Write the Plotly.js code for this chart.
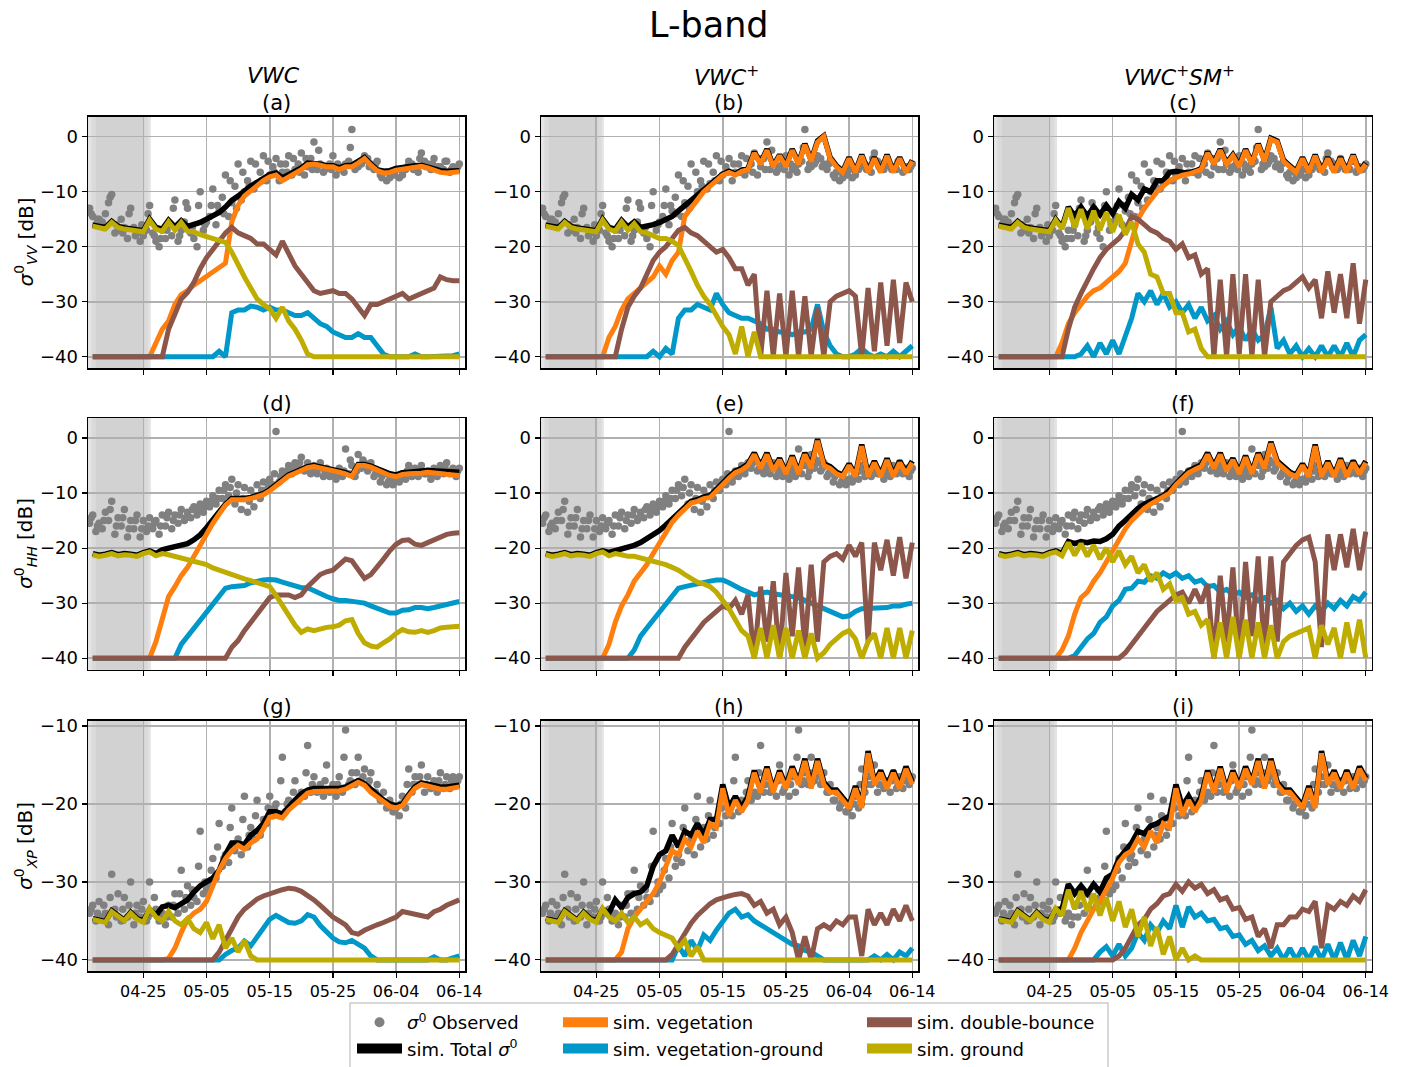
<!DOCTYPE html>
<html><head><meta charset="utf-8">
<script src="https://cdn.plot.ly/plotly-3.0.1.min.js"></script>
<style>html,body{margin:0;padding:0;background:#fff;}#chart{width:1406px;height:1067px;}</style>
</head><body><div id="chart"></div>
<script>
// x positions: days after 04-15
const days = [2,3,4,5,6,7,8,9,10,11,12,13,14,15,16,17,18,19,20,21,22,23,24,25,26,27,28,29,30,31,32,33,34,35,36,37,38,39,40,41,42,43,44,45,46,47,48,49,50,51,52,53,54,55,56,57,58,59,60];
const halfDays = [1.5,2.5,3.5,4.5,5.5,6.5,7.5,8.5,9.5,10.5,11.5,12.5,13.5,14.5,15.5,16.5,17.5,18.5,19.5,20.5,21.5,22.5,23.5,24.5,25.5,26.5,27.5,28.5,29.5,30.5,31.5,32.5,33.5,34.5,35.5,36.5,37.5,38.5,39.5,40.5,41.5,42.5,43.5,44.5,45.5,46.5,47.5,48.5,49.5,50.5,51.5,52.5,53.5,54.5,55.5,56.5,57.5,58.5,59.5];
const lateDays = [1.75,2.75,3.75,4.75,5.75,6.75,7.75,8.75,9.75,10.75,11.75,12.75,13.75,14.75,15.75,16.75,17.75,18.75,19.75,20.75,21.75,22.75,23.75,24.75,25.75,26.75,27.75,28.75,29.75,30.75,31.75,32.75,33.75,34.75,35.75,36.75,37.75,38.75,39.75,40.75,41.75,42.75,43.75,44.75,45.75,46.75,47.75,48.75,49.75,50.75,51.75,52.75,53.75,54.75,55.75,56.75,57.75,58.75,59.75];
const tickDays = [10,20,30,40,50,60];
const tickLabels = ['04-25','05-05','05-15','05-25','06-04','06-14'];
const frozenPeriod = [1.5, 10.6];

// observed sigma0 (same in every column of a row)
const obsVVint = [-14.5,-15,-14,-10.5,-17,-16.5,-13,-17.5,-18,-12.5,
-19,-17,-16,-11.5,-17,-13,-18.5,-10,-15.5,-9.5,
-13.5,-7,-12,-5,-10,-4.5,-8.5,-3.5,-7,-4,
-6.5,-3.5,-6,-3,-5.5,-1,-5,-5.5,-3.5,-6,
-5,1.3,-5.5,-3.5,-5,-4.5,-6.5,-7.5,-6,-7,
-4.5,-5.5,-3,-5,-4,-5.5,-4.5,-5.5,-5];
const obsVVhalf = [-13,-16,-15.5,-12,-17.5,-15,-18.5,-16.5,-19,-17,
-17.5,-20,-18.5,-18,-19,-15.5,-17.5,-20,-17,-14.5,
-16,-11,-14.5,-9,-11.5,-8,-9.5,-6.5,-8,-5.5,
-8,-5,-7,-5,-7,-4,-6,-6.5,-5,-7,
-5.5,-4.5,-6,-5,-4,-6,-7,-8,-6.5,-7.5,
-6,-5,-6.5,-4.5,-6,-5.5,-6,-6.5,-6];
const obsVVlate = [-14,-15,-16.5,-11,-16,-17.5,-14,-18,-16,-14,
-18,-18.5,-17,-13,-18,-12,-16.5,-12.5,-16,-12.5,
-12.5,-14,-8,-13,-6.5,-9,-5,-8,-4.5,-6.5,
-5,-6.5,-4,-6.5,-4,-6,-2.5,-6,-6,-5,
-6.5,-2,-5,-4.5,-5.5,-5,-7.5,-6.5,-7,-6,
-5.5,-6,-4,-5.5,-5,-6,-4.5,-6,-5.5];
const obsHHint = [-14,-15.5,-13.5,-11.5,-14.5,-13,-15,-14,-15,-14.5,
-15,-14,-13.5,-14,-13,-13.5,-12.5,-12,-11.5,-10.5,
-9.5,-8.5,-7.5,-8.5,-9,-9.5,-8.5,-8,-7.5,1.2,
-6,-5,-4.5,-3.5,-4.5,-5,-4.5,-5.5,-6,-5.5,
-2,-5,-3,-4.5,-4.5,-6,-6.5,-7,-7.5,-6.5,
-5,-5.5,-5,-6,-5.5,-5,-4.5,-5.5,-5.5];
const obsHHhalf = [-15.5,-17,-16.5,-15,-17.5,-16,-18,-16.5,-18,-17,
-16.5,-17.5,-16,-16.5,-15.5,-15,-14.5,-14,-13.5,-12.5,
-12,-11,-10.5,-12,-13,-13.5,-12.5,-11,-9.5,-8.5,
-8,-7,-6.5,-5.5,-6,-6.5,-6.5,-7,-7,-7.5,
-7,-6.5,-7,-5.5,-6,-7,-8,-8.5,-8.5,-8,
-7.5,-7,-7,-6.5,-7.5,-7,-6.5,-6.5,-7];
const obsHHlate = [-14.5,-16,-15,-13,-16,-14.5,-16.5,-15,-16.5,-16,
-15.5,-16,-14.5,-15,-14,-14.5,-13,-13,-12.5,-11.5,
-11,-9.5,-9,-10,-11,-11.5,-10.5,-9.5,-8.5,-6.5,
-7,-6,-5.5,-4.5,-5.5,-5.5,-5.5,-6,-6.5,-6.5,
-6,-4,-6,-4,-5.5,-6.5,-7,-8,-8,-7,
-6,-6,-6,-6.5,-6.5,-6,-5.5,-6,-6];
const obsXPint = [-33,-32.5,-34,-29,-31.5,-32,-30,-33,-32.5,-30,
-33.5,-34,-33,-31.5,-28.5,-30.5,-32,-23.5,-31,-27,
-22.5,-26.5,-20.5,-24.5,-19,-23,-19.5,-22,-19,-20,
-14,-19.5,-17,-18.5,-12.5,-16.5,-17.5,-15,-17.5,-16.5,
-10.5,-16,-14,-15.5,-16,-17.5,-18.5,-19.5,-20.5,-19,
-15.5,-16.5,-15,-16.5,-17,-16,-16.5,-16.5,-16.5];
const obsXPhalf = [-34,-35,-34.5,-35.5,-33.5,-35,-34.5,-35.5,-34.5,-35,
-34,-35,-35.5,-34.5,-34,-33.5,-33,-32.5,-31.5,-30.5,
-29.5,-28,-27.5,-26,-26.5,-25.5,-24.5,-24,-22.5,-21.5,
-21.5,-21,-20,-19.5,-19,-18.5,-18.5,-19,-18.5,-19,
-18.5,-17.5,-17.5,-17,-17.5,-18.5,-19.5,-20.5,-21,-21.5,
-20.5,-18.5,-17.5,-18.5,-18,-18.5,-18,-18,-17.5];
const obsXPlate = [-33.5,-34,-33,-32,-34.5,-33.5,-33,-34,-33.5,-34.5,
-32,-34.5,-34.5,-33,-31.5,-32,-31,-28,-30,-28.5,
-25.5,-27,-23,-25,-22,-24,-21.5,-23,-20.5,-20.5,
-17,-20,-18.5,-19,-16,-17.5,-18,-17,-18,-17.5,
-14,-17,-16,-16.5,-17,-18.5,-19.5,-20,-21,-20,
-17.5,-17.5,-16.5,-17.5,-17.5,-17,-17.5,-17,-17];

// ---- panel (a) VWC, VV
const totalA = [-16.1,-16.3,-16.5,-15.4,-16.3,-16.6,-16.8,-16.8,-17.1,-15.0,
-16.5,-16.8,-15.2,-16.4,-15.3,-16.3,-16.0,-15.6,-15.0,-14.5,
-13.8,-12.8,-11.6,-10.8,-9.8,-9.0,-8.3,-7.6,-6.9,-6.6,
-7.5,-6.9,-6.4,-5.7,-4.8,-4.8,-5.0,-5.3,-5.3,-5.7,
-5.3,-5.2,-4.6,-3.8,-5.0,-6.0,-6.3,-6.2,-5.8,-5.6,
-5.3,-5.3,-5.2,-5.5,-6.0,-6.2,-6.3,-6.3,-6.2];
const vegA = [-40,-40,-40,-40,-40,-40,-40,-40,-40,-40,
-37.5,-35.0,-33.5,-30.5,-28.7,-28.0,-27.0,-26.2,-25.5,-24.8,
-23.8,-23.0,-15.5,-12.5,-10.8,-9.8,-9.0,-8.0,-7.3,-7.0,
-8.0,-7.3,-6.8,-6.0,-5.1,-5.0,-5.2,-5.5,-5.5,-6.0,
-5.5,-5.5,-4.8,-4.0,-5.2,-6.2,-6.6,-6.5,-6.1,-5.9,
-5.6,-5.5,-5.4,-5.7,-6.2,-6.5,-6.6,-6.5,-6.4];
const vegGroundA = [-40,-40,-40,-40,-40,-40,-40,-40,-40,-40,
-40,-40,-40,-40,-40,-40,-40,-40,-40,-40,
-39.0,-40,-32.0,-31.5,-31.5,-30.8,-31.0,-31.5,-31.0,-31.5,
-31.5,-32.0,-32.5,-32.5,-32.0,-33.0,-34.0,-34.5,-35.5,-36.0,
-36.5,-36.5,-35.8,-36.5,-36.5,-38.0,-39.5,-40,-40,-40,
-40,-39.5,-40,-40,-40,-40,-40,-39.8,-39.5];
const doubleA = [-40,-40,-40,-40,-40,-40,-40,-40,-40,-40,
-40,-40,-35.0,-32.0,-29.5,-28.3,-26.5,-24.0,-22.0,-20.5,
-19.0,-17.5,-16.5,-17.5,-18.0,-18.5,-19.5,-19.5,-20.5,-21.5,
-19.0,-21.5,-23.5,-25.0,-26.5,-28.0,-28.5,-28.2,-28.0,-28.5,
-28.5,-29.5,-31.0,-32.5,-30.5,-30.5,-30.0,-29.5,-29.0,-28.5,
-29.5,-29.0,-28.5,-28.0,-27.5,-25.5,-26.0,-26.2,-26.2];
const groundA = [-16.3,-16.5,-16.8,-15.6,-16.5,-16.8,-17.0,-17.0,-17.3,-15.2,
-16.8,-17.2,-15.5,-17.0,-15.6,-17.2,-17.3,-17.8,-18.2,-18.5,
-18.8,-19.2,-21.0,-23.5,-25.5,-27.5,-29.5,-30.5,-31.3,-33.0,
-31.0,-33.5,-35.0,-37.0,-39.5,-40,-40,-40,-40,-40,
-40,-40,-40,-40,-40,-40,-40,-40,-40,-40,
-40,-40,-40,-40,-40,-40,-40,-40,-40];

// ---- panel (b) VWC+, VV
const totalB = [-16.1,-16.3,-16.5,-15.4,-16.3,-16.6,-16.8,-16.8,-17.1,-15.0,
-16.5,-16.8,-15.2,-16.4,-15.5,-16.5,-16.3,-16.0,-15.6,-15.0,
-14.5,-13.5,-12.5,-11.5,-10.5,-9.8,-8.8,-7.5,-6.8,-6.3,
-6.8,-6.1,-5.8,-2.8,-4.8,-2.3,-5.3,-3.3,-5.3,-2.3,
-4.8,-1.3,-4.3,-0.8,0.1,-3.8,-5.3,-6.3,-3.8,-6.3,
-3.3,-6.3,-3.8,-6.3,-3.3,-6.3,-3.8,-6.3,-4.3];
const vegB = [-40,-40,-40,-40,-40,-40,-40,-40,-40,-40,
-36.5,-34.5,-31.5,-29.5,-28.5,-27.5,-26.5,-25.5,-23.5,-25.0,
-22.5,-21.0,-14.5,-12.8,-11.5,-10.0,-9.0,-8.0,-7.0,-6.5,
-7.0,-6.3,-6.0,-3.0,-5.0,-2.5,-5.5,-3.5,-5.5,-2.5,
-5.0,-1.5,-4.5,-1.0,0.0,-4.0,-5.5,-6.5,-4.0,-6.5,
-3.5,-6.5,-4.0,-6.5,-3.5,-6.5,-4.0,-6.5,-4.5];
const vegGroundB = [-40,-40,-40,-40,-40,-40,-40,-40,-40,-40,
-40,-40,-40,-40,-40,-40,-40,-39.0,-40,-38.5,
-39.5,-33.0,-31.5,-31.5,-30.5,-31.0,-31.5,-28.5,-30.5,-32.0,
-32.5,-33.0,-33.0,-33.5,-34.0,-35.0,-35.0,-35.5,-35.5,-36.0,
-35.5,-35.5,-35.0,-30.5,-35.5,-38.0,-39.5,-40,-40,-39.5,
-38.5,-39.5,-40,-39.5,-40,-39.0,-40,-39.0,-38.0];
const doubleB = [-40,-40,-40,-40,-40,-40,-40,-40,-40,-40,
-40,-40,-35.0,-31.0,-29.0,-27.5,-25.0,-22.5,-21.0,-20.0,
-18.5,-17.0,-16.5,-17.5,-18.0,-19.0,-20.0,-21.0,-20.5,-22.0,
-24.0,-24.0,-27.0,-25.0,-40,-28.0,-40,-28.5,-40,-28.0,
-40,-29.0,-40,-31.0,-40,-30.0,-29.0,-28.5,-28.0,-29.0,
-40,-27.5,-39.0,-26.5,-38.0,-26.0,-37.5,-26.5,-30.0];
const groundB = [-16.3,-16.5,-16.8,-15.6,-16.5,-16.8,-17.0,-17.0,-17.3,-15.2,
-16.8,-17.2,-15.5,-17.0,-15.8,-17.3,-17.5,-18.0,-18.5,-18.5,
-19.0,-19.8,-22.0,-24.5,-27.0,-29.0,-30.5,-32.5,-34.5,-36.0,
-39.5,-34.5,-40,-35.5,-40,-40,-40,-40,-40,-40,
-40,-40,-40,-40,-40,-40,-40,-40,-40,-40,
-40,-40,-40,-40,-40,-40,-40,-40,-40];

// ---- panel (c) VWC+SM+, VV
const totalC = [-16.1,-16.3,-16.5,-15.4,-16.3,-16.6,-16.8,-16.8,-17.1,-15.0,
-16.5,-12.8,-14.5,-12.8,-14.5,-12.8,-14.2,-12.5,-14.0,-11.8,
-13.0,-10.5,-11.5,-9.5,-10.0,-8.0,-8.0,-6.5,-6.3,-6.5,
-6.6,-6.3,-5.8,-2.8,-4.8,-2.3,-4.8,-3.3,-5.3,-2.3,
-4.8,-1.3,-4.3,-0.3,-0.8,-4.3,-5.3,-6.3,-3.8,-6.3,
-3.3,-6.3,-3.8,-6.3,-3.8,-6.3,-3.3,-6.3,-4.8];
const vegC = [-40,-40,-40,-40,-40,-40,-40,-40,-40,-40,
-37.5,-34.0,-32.0,-30.5,-29.0,-28.0,-27.5,-26.5,-25.5,-24.5,
-23.0,-19.0,-15.0,-13.0,-11.5,-10.0,-9.0,-8.0,-7.5,-7.0,
-6.8,-6.5,-6.0,-3.0,-5.0,-2.5,-5.0,-3.5,-5.5,-2.5,
-5.0,-1.5,-4.5,-0.5,-1.0,-4.5,-5.5,-6.5,-4.0,-6.5,
-3.5,-6.5,-4.0,-6.5,-4.0,-6.5,-3.5,-6.5,-5.0];
const vegGroundC = [-40,-40,-40,-40,-40,-40,-40,-40,-40,-40,
-40,-40,-40,-39.5,-38.0,-40,-37.5,-39.5,-37.0,-39.5,
-36.5,-33.0,-28.5,-30.0,-28.0,-30.5,-28.5,-31.0,-30.0,-32.0,
-30.5,-33.0,-31.0,-33.5,-32.5,-35.0,-33.5,-36.0,-34.5,-37.0,
-35.0,-37.0,-36.0,-31.0,-38.5,-37.0,-39.5,-38.0,-40,-38.5,
-40,-38.0,-40,-38.0,-40,-37.5,-40,-37.0,-36.0];
const doubleC = [-40,-40,-40,-40,-40,-40,-40,-40,-40,-40,
-40,-35.0,-31.0,-28.5,-26.0,-24.0,-22.0,-20.5,-19.5,-18.5,
-17.0,-14.5,-15.0,-16.0,-17.0,-17.5,-18.5,-19.0,-20.5,-19.5,
-22.0,-21.5,-25.0,-24.0,-40,-26.0,-40,-25.0,-39.5,-25.0,
-40,-26.0,-40,-30.0,-29.0,-28.0,-27.5,-26.5,-25.5,-27.5,
-26.0,-33.0,-24.5,-32.0,-25.0,-33.0,-23.0,-34.0,-26.0];
const groundC = [-16.3,-16.5,-16.8,-15.6,-16.5,-16.8,-17.0,-17.0,-17.3,-15.2,
-16.8,-13.0,-16.5,-13.2,-16.8,-13.5,-17.0,-13.8,-17.3,-14.2,
-17.8,-15.5,-19.5,-21.0,-25.0,-25.5,-28.5,-28.5,-32.0,-32.0,
-35.5,-35.0,-38.5,-40,-40,-40,-40,-40,-40,-40,
-40,-40,-40,-40,-40,-40,-40,-40,-40,-40,
-40,-40,-40,-40,-40,-40,-40,-40,-40];

// ---- panel (d) VWC, HH
const totalD = [-21.0,-21.3,-21.1,-20.8,-21.2,-21.0,-21.1,-21.3,-20.8,-20.5,
-21.0,-20.3,-20.0,-19.8,-19.6,-19.2,-18.5,-17.6,-16.3,-14.9,
-13.4,-12.0,-11.0,-11.1,-11.0,-10.8,-10.5,-10.1,-9.4,-8.5,
-7.5,-6.7,-6.2,-5.6,-5.2,-5.0,-5.2,-5.4,-5.6,-6.0,
-6.3,-6.8,-4.8,-4.8,-5.1,-5.6,-6.1,-6.5,-6.7,-6.3,
-6.2,-6.2,-6.0,-5.9,-6.0,-6.1,-6.1,-6.2,-6.2];
const vegD = [-40,-40,-40,-40,-40,-40,-40,-40,-40,-40,
-37.0,-32.5,-28.8,-27.0,-25.0,-23.5,-21.5,-19.3,-17.3,-15.5,
-13.8,-12.2,-11.2,-11.3,-11.2,-11.0,-10.7,-10.3,-9.6,-8.7,
-7.7,-6.9,-6.4,-5.8,-5.4,-5.2,-5.4,-5.6,-5.8,-6.2,
-6.5,-7.0,-5.0,-5.0,-5.3,-5.8,-6.3,-6.8,-7.0,-6.6,
-6.5,-6.5,-6.4,-6.2,-6.4,-6.5,-6.6,-6.7,-6.8];
const vegGroundD = [-40,-40,-40,-40,-40,-40,-40,-40,-40,-40,
-40,-40,-40,-40,-37.5,-36.0,-34.5,-33.0,-31.5,-30.0,
-28.5,-27.3,-27.0,-27.0,-26.8,-26.3,-26.0,-25.8,-25.7,-25.8,
-26.2,-26.5,-26.8,-27.2,-27.2,-27.8,-28.2,-28.8,-29.2,-29.5,
-29.5,-29.6,-29.8,-30.0,-30.5,-31.0,-31.3,-31.8,-31.8,-31.3,
-31.2,-30.8,-30.8,-31.0,-30.8,-30.5,-30.3,-30.0,-29.7];
const doubleD = [-40,-40,-40,-40,-40,-40,-40,-40,-40,-40,
-40,-40,-40,-40,-40,-40,-40,-40,-40,-40,
-40,-40,-38.0,-36.8,-35.0,-33.5,-32.0,-30.3,-29.0,-28.5,
-28.5,-28.5,-29.0,-28.5,-27.0,-25.8,-24.8,-24.3,-24.0,-23.0,
-22.0,-22.3,-24.0,-25.5,-24.8,-23.5,-22.0,-20.5,-19.3,-18.6,
-18.5,-19.3,-19.5,-19.0,-18.5,-17.8,-17.5,-17.3,-17.2];
const groundD = [-21.2,-21.5,-21.3,-21.0,-21.4,-21.2,-21.3,-21.5,-21.0,-20.7,
-21.4,-21.0,-21.2,-21.5,-21.8,-22.2,-22.4,-22.8,-23.0,-23.6,
-24.0,-24.4,-25.0,-25.3,-25.6,-25.9,-26.2,-26.5,-27.0,-28.6,
-30.5,-32.3,-34.0,-35.3,-34.7,-35.0,-34.6,-34.4,-34.3,-34.0,
-33.2,-33.0,-35.5,-37.2,-37.8,-38.0,-37.2,-36.5,-35.5,-34.8,
-35.2,-35.3,-35.0,-35.3,-35.0,-34.5,-34.4,-34.3,-34.2];

// ---- panel (e) VWC+, HH
const totalE = [-21.0,-21.3,-21.1,-20.8,-21.2,-21.0,-21.1,-21.3,-20.8,-20.5,
-20.8,-20.5,-20.3,-20.0,-19.5,-19.0,-18.3,-17.5,-16.8,-15.8,
-14.8,-13.7,-12.5,-11.5,-11.2,-10.7,-10.5,-9.5,-8.2,-7.0,
-6.0,-5.5,-4.7,-2.7,-5.2,-2.7,-5.7,-3.7,-6.2,-3.2,
-6.2,-2.7,-5.2,-0.2,-4.7,-5.2,-6.2,-6.7,-4.7,-6.7,
-1.2,-6.7,-4.2,-6.7,-3.7,-6.7,-4.2,-6.2,-4.2];
const vegE = [-40,-40,-40,-40,-40,-40,-40,-40,-40,-40,
-37.5,-33.5,-30.5,-28.5,-26.0,-24.5,-23.0,-21.0,-19.0,-17.0,
-15.3,-14.0,-12.8,-11.8,-11.5,-11.0,-10.8,-9.8,-8.5,-7.3,
-6.3,-5.8,-5.0,-3.0,-5.5,-3.0,-6.0,-4.0,-6.5,-3.5,
-6.5,-3.0,-5.5,-0.5,-5.0,-5.5,-6.5,-7.0,-5.0,-7.0,
-1.5,-7.0,-4.5,-7.0,-4.0,-7.0,-4.5,-6.5,-4.5];
const vegGroundE = [-40,-40,-40,-40,-40,-40,-40,-40,-40,-40,
-40,-40,-40,-40,-38.5,-36.0,-34.5,-33.0,-31.5,-30.0,
-28.5,-27.3,-27.0,-26.7,-26.5,-26.2,-26.0,-25.8,-25.8,-26.3,
-27.0,-27.5,-28.0,-28.5,-28.2,-28.0,-28.3,-28.5,-28.5,-28.8,
-29.0,-29.5,-30.0,-30.5,-31.0,-31.5,-32.0,-32.5,-32.3,-31.5,
-31.0,-31.0,-31.0,-31.0,-30.8,-30.5,-30.5,-30.2,-30.0];
const doubleE = [-40,-40,-40,-40,-40,-40,-40,-40,-40,-40,
-40,-40,-40,-40,-40,-40,-40,-40,-40,-40,
-40,-40,-38.0,-36.5,-35.0,-33.5,-32.5,-31.5,-30.5,-31.0,
-29.5,-32.0,-28.5,-40,-27.0,-37.0,-26.0,-40,-24.5,-36.0,
-23.5,-38.0,-23.0,-37.0,-22.5,-21.5,-21.0,-22.0,-19.5,-21.5,
-19.0,-37.0,-19.0,-24.0,-18.5,-25.0,-18.0,-25.5,-19.0];
const groundE = [-21.2,-21.5,-21.3,-21.0,-21.4,-21.2,-21.3,-21.5,-21.0,-20.7,
-21.4,-21.0,-21.2,-21.5,-21.5,-21.8,-22.0,-22.3,-22.5,-23.0,
-23.5,-24.0,-24.8,-25.5,-26.2,-26.5,-27.0,-28.0,-29.5,-31.0,
-33.0,-35.0,-36.0,-40,-34.5,-40,-34.0,-40,-34.5,-40,
-35.0,-40,-35.5,-40,-39.0,-37.5,-36.5,-35.5,-35.0,-36.5,
-40,-37.0,-35.5,-40,-34.5,-40,-34.5,-40,-35.0];

// ---- panel (f) VWC+SM+, HH
const totalF = [-21.0,-21.3,-21.1,-20.8,-21.2,-21.0,-21.1,-21.3,-20.8,-20.5,
-21.0,-18.8,-19.2,-18.8,-19.0,-18.7,-18.8,-18.3,-17.5,-16.0,
-15.0,-13.8,-12.8,-12.0,-11.5,-11.0,-10.5,-9.5,-8.3,-7.0,
-6.0,-5.4,-4.9,-2.7,-5.2,-2.7,-5.7,-3.7,-6.2,-3.2,
-6.2,-2.7,-5.2,-0.7,-4.2,-5.2,-6.2,-6.7,-4.7,-6.7,
-1.2,-6.7,-4.2,-6.7,-3.7,-6.7,-4.2,-6.2,-4.2];
const vegF = [-40,-40,-40,-40,-40,-40,-40,-40,-40,-40,
-38.5,-36.0,-32.0,-29.0,-28.0,-26.0,-24.5,-22.5,-20.5,-18.5,
-16.5,-15.0,-13.8,-12.8,-12.0,-11.3,-10.8,-10.0,-8.5,-7.3,
-6.3,-5.7,-5.2,-3.0,-5.5,-3.0,-6.0,-4.0,-6.5,-3.5,
-6.5,-3.0,-5.5,-1.0,-4.5,-5.5,-6.5,-7.0,-5.0,-7.0,
-1.5,-7.0,-4.5,-7.0,-4.0,-7.0,-4.5,-6.5,-4.5];
const vegGroundF = [-40,-40,-40,-40,-40,-40,-40,-40,-40,-40,
-40,-40,-39.5,-38.0,-36.5,-35.5,-33.5,-32.5,-30.5,-29.5,
-27.5,-27.3,-26.0,-26.2,-25.0,-25.5,-24.5,-25.2,-24.5,-25.5,
-25.0,-26.2,-25.8,-27.0,-26.8,-28.0,-27.5,-28.5,-28.0,-29.0,
-28.5,-29.5,-29.0,-30.0,-29.5,-31.0,-30.0,-31.5,-30.5,-32.0,
-30.5,-31.5,-30.0,-31.0,-29.5,-30.5,-28.8,-29.5,-28.0];
const doubleF = [-40,-40,-40,-40,-40,-40,-40,-40,-40,-40,
-40,-40,-40,-40,-40,-40,-40,-40,-40,-40,
-39.0,-37.5,-36.0,-34.5,-33.0,-31.5,-30.5,-29.5,-28.5,-28.0,
-30.0,-27.5,-30.0,-26.5,-40,-25.0,-37.0,-23.5,-40,-22.5,
-36.0,-21.5,-39.0,-21.5,-37.0,-22.5,-21.0,-19.5,-18.5,-18.0,
-22.5,-38.0,-17.5,-24.0,-17.5,-23.5,-16.5,-24.0,-17.0];
const groundF = [-21.2,-21.5,-21.3,-21.0,-21.4,-21.2,-21.3,-21.5,-21.0,-20.7,
-21.4,-19.0,-21.3,-19.2,-21.5,-19.5,-22.0,-20.0,-22.5,-20.5,
-23.0,-21.5,-24.5,-23.0,-26.0,-24.5,-27.5,-26.5,-29.5,-29.0,
-32.0,-31.5,-34.0,-33.0,-40,-33.5,-40,-32.5,-40,-33.0,
-40,-33.5,-40,-34.0,-40,-37.0,-36.0,-35.5,-35.0,-34.5,
-40,-34.0,-37.5,-34.5,-40,-33.5,-39.0,-33.0,-40];

// ---- panel (g) VWC, XP
const totalG = [-34.7,-34.9,-35.1,-33.7,-34.4,-34.9,-33.9,-34.7,-35.0,-33.5,
-34.3,-33.2,-33.0,-33.3,-32.8,-32.3,-31.3,-30.5,-30.0,-29.5,
-28.5,-26.5,-25.0,-25.0,-25.2,-24.0,-23.4,-22.5,-21.0,-21.0,
-21.3,-20.3,-19.5,-18.7,-18.2,-18.0,-18.0,-18.0,-18.0,-18.0,
-17.8,-17.4,-17.0,-17.4,-18.2,-18.8,-19.5,-20.0,-20.2,-20.0,
-18.8,-17.8,-17.3,-17.5,-17.6,-17.8,-17.8,-17.7,-17.6];
const vegG = [-40,-40,-40,-40,-40,-40,-40,-40,-40,-40,
-40,-40,-39.8,-38.5,-36.5,-34.8,-34.0,-33.5,-32.5,-30.5,
-28.5,-27.0,-26.0,-25.3,-25.8,-25.0,-24.5,-23.2,-21.7,-21.5,
-21.8,-20.8,-20.0,-19.2,-18.6,-18.4,-18.4,-18.4,-18.4,-18.3,
-18.1,-17.6,-17.2,-17.6,-18.5,-19.1,-19.8,-20.3,-20.5,-20.2,
-19.0,-18.0,-17.5,-17.7,-17.9,-18.1,-18.1,-18.0,-17.8];
const vegGroundG = [-40,-40,-40,-40,-40,-40,-40,-40,-40,-40,
-40,-40,-40,-40,-40,-40,-40,-40,-40,-40,
-40,-39.3,-38.8,-38.5,-37.6,-38.2,-37.0,-35.8,-34.8,-34.3,
-34.8,-35.2,-35.3,-35.0,-34.2,-34.5,-35.6,-36.5,-37.2,-37.7,
-37.8,-37.5,-38.0,-38.5,-39.5,-40,-40,-40,-40,-40,
-40,-40,-40,-40,-39.6,-40,-40,-39.8,-39.5];
const doubleG = [-40,-40,-40,-40,-40,-40,-40,-40,-40,-40,
-40,-40,-40,-40,-40,-40,-40,-40,-40,-40,
-39.0,-37.5,-35.8,-34.5,-33.5,-32.8,-32.2,-31.8,-31.5,-31.2,
-31.0,-30.8,-30.9,-31.2,-31.7,-32.3,-33.0,-33.8,-34.5,-35.0,
-35.5,-36.5,-36.7,-36.2,-35.8,-35.5,-35.2,-34.9,-34.5,-33.8,
-34.0,-34.2,-34.4,-34.5,-33.8,-33.5,-33.0,-32.6,-32.3];
const groundG = [-34.8,-35.0,-35.2,-33.8,-34.5,-35.0,-34.0,-34.8,-35.2,-33.4,
-34.5,-35.0,-33.8,-35.0,-35.5,-34.7,-36.0,-36.5,-35.2,-37.3,
-35.5,-38.5,-37.2,-39.0,-37.5,-39.5,-40,-40,-40,-40,
-40,-40,-40,-40,-40,-40,-40,-40,-40,-40,
-40,-40,-40,-40,-40,-40,-40,-40,-40,-40,
-40,-40,-40,-40,-40,-40,-40,-40,-40];

// ---- panel (h) VWC+, XP
const totalH = [-34.7,-34.9,-35.1,-33.7,-34.4,-34.9,-33.9,-34.7,-35.0,-33.5,
-34.0,-32.3,-33.3,-32.0,-31.5,-31.3,-30.5,-28.0,-26.5,-26.0,
-24.0,-25.5,-23.5,-24.0,-22.5,-24.0,-22.0,-22.0,-17.5,-20.5,
-19.0,-20.5,-19.0,-15.7,-18.2,-15.2,-18.2,-15.7,-17.7,-15.2,
-17.2,-14.2,-17.7,-14.2,-17.2,-18.2,-18.2,-19.2,-20.2,-17.7,
-20.2,-13.2,-17.2,-15.7,-17.7,-15.7,-17.7,-15.2,-17.2];
const vegH = [-40,-40,-40,-40,-40,-40,-40,-40,-40,-40,
-40,-40,-39.0,-36.0,-34.5,-33.5,-32.5,-31.5,-30.0,-28.0,
-26.0,-26.5,-24.5,-25.5,-23.5,-25.0,-22.5,-23.0,-18.0,-21.5,
-19.5,-21.0,-19.5,-16.0,-18.5,-15.5,-18.5,-16.0,-18.0,-15.5,
-17.5,-14.5,-18.0,-14.5,-17.5,-18.5,-18.5,-19.5,-20.5,-18.0,
-20.5,-13.5,-17.5,-16.0,-18.0,-16.0,-18.0,-15.5,-17.5];
const vegGroundH = [-40,-40,-40,-40,-40,-40,-40,-40,-40,-40,
-40,-40,-40,-40,-40,-40,-40,-40,-40,-40,
-40,-38.2,-39.5,-37.5,-38.8,-36.8,-37.5,-36.2,-35.0,-34.0,
-33.5,-34.5,-34.2,-35.0,-35.5,-36.0,-36.5,-37.0,-37.5,-38.0,
-38.2,-38.8,-39.0,-39.5,-40,-40,-40,-40,-40,-40,
-40,-40,-39.5,-40,-39.3,-40,-39.0,-39.5,-38.5];
const doubleH = [-40,-40,-40,-40,-40,-40,-40,-40,-40,-40,
-40,-40,-40,-40,-40,-40,-40,-40,-40,-40,
-39.3,-38.0,-36.5,-35.3,-34.3,-33.5,-32.8,-32.3,-32.0,-31.8,
-31.6,-31.5,-31.8,-33.0,-32.5,-34.0,-33.5,-35.5,-34.5,-36.5,
-40,-37.0,-40,-36.0,-35.5,-36.0,-35.0,-35.5,-34.5,-34.5,
-39.5,-33.5,-35.5,-34.0,-35.5,-33.5,-35.0,-33.0,-35.0];
const groundH = [-34.8,-35.0,-35.2,-33.8,-34.5,-35.0,-34.0,-34.8,-35.2,-33.4,
-34.5,-35.0,-34.0,-35.2,-34.5,-35.5,-35.0,-36.0,-36.5,-36.8,
-37.2,-38.5,-37.5,-39.5,-38.3,-40,-40,-40,-40,-40,
-40,-40,-40,-40,-40,-40,-40,-40,-40,-40,
-40,-40,-40,-40,-40,-40,-40,-40,-40,-40,
-40,-40,-40,-40,-40,-40,-40,-40,-40];

// ---- panel (i) VWC+SM+, XP
const totalI = [-34.7,-34.9,-35.1,-33.7,-34.4,-34.9,-33.9,-34.7,-35.0,-33.5,
-33.5,-30.3,-31.5,-30.5,-31.5,-30.3,-31.3,-29.5,-29.0,-27.0,
-26.0,-25.0,-23.5,-23.8,-22.8,-22.5,-22.0,-21.5,-17.5,-20.3,
-19.0,-20.5,-19.0,-15.7,-18.2,-15.2,-18.2,-15.7,-17.7,-15.2,
-17.2,-14.2,-17.7,-14.2,-17.2,-18.2,-18.2,-19.2,-20.2,-17.7,
-20.2,-13.2,-17.2,-15.7,-17.7,-15.7,-17.7,-15.2,-16.7];
const vegI = [-40,-40,-40,-40,-40,-40,-40,-40,-40,-40,
-40,-40,-38.5,-36.5,-35.0,-33.5,-32.5,-31.0,-29.5,-27.5,
-26.5,-26.0,-24.5,-25.5,-23.5,-25.0,-22.5,-23.0,-18.0,-21.5,
-19.5,-21.0,-19.5,-16.0,-18.5,-15.5,-18.5,-16.0,-18.0,-15.5,
-17.5,-14.5,-18.0,-14.5,-17.5,-18.5,-18.5,-19.5,-20.5,-18.0,
-20.5,-13.5,-17.5,-16.0,-18.0,-16.0,-18.0,-15.5,-17.0];
const vegGroundI = [-40,-40,-40,-40,-40,-40,-40,-40,-40,-40,
-40,-40,-40,-40,-40,-40,-39.0,-38.3,-39.5,-38.0,
-39.5,-38.5,-36.5,-37.5,-35.5,-36.5,-35.0,-36.0,-33.0,-35.8,
-33.2,-34.5,-34.0,-35.0,-34.8,-36.0,-35.8,-37.0,-36.8,-38.0,
-37.5,-38.8,-38.2,-39.5,-38.5,-40,-38.5,-40,-38.5,-40,
-38.3,-40,-38.0,-40,-37.8,-40,-37.5,-39.5,-37.0];
const doubleI = [-40,-40,-40,-40,-40,-40,-40,-40,-40,-40,
-40,-40,-40,-40,-40,-40,-40,-40,-40,-39.5,
-38.5,-37.0,-35.5,-34.8,-33.5,-32.8,-31.8,-31.5,-30.3,-31.2,
-30.0,-30.8,-30.3,-31.5,-31.0,-32.3,-32.0,-33.5,-33.3,-34.8,
-34.5,-37.0,-36.0,-38.5,-35.5,-35.5,-34.5,-34.5,-33.5,-33.8,
-32.5,-38.5,-33.0,-33.5,-32.5,-33.0,-31.8,-32.5,-31.0];
const groundI = [-34.8,-35.0,-35.2,-33.8,-34.5,-35.0,-34.0,-34.8,-35.2,-33.4,
-34.3,-31.0,-33.5,-31.2,-33.8,-31.5,-34.3,-32.0,-35.0,-32.5,
-35.8,-33.5,-37.0,-34.5,-38.2,-35.8,-39.3,-37.0,-40,-38.5,
-40,-39.5,-40,-40,-40,-40,-40,-40,-40,-40,
-40,-40,-40,-40,-40,-40,-40,-40,-40,-40,
-40,-40,-40,-40,-40,-40,-40,-40,-40];

const panelLetters = ['(a)','(b)','(c)','(d)','(e)','(f)','(g)','(h)','(i)'];
const columnTitles = ['<i>VWC</i>','<i>VWC</i><sup>+</sup>','<i>VWC</i><sup>+</sup><i>SM</i><sup>+</sup>'];
const rowTitles = ['<i>σ</i><sup>0</sup><sub><i>VV</i></sub> [dB]','<i>σ</i><sup>0</sup><sub><i>HH</i></sub> [dB]','<i>σ</i><sup>0</sup><sub><i>XP</i></sub> [dB]'];
const yTicksTop = [0,-10,-20,-30,-40];
const yTickTextTop = ['0','\u221210','\u221220','\u221230','\u221240'];
const yTicksXP = [-10,-20,-30,-40];
const yTickTextXP = ['\u221210','\u221220','\u221230','\u221240'];

const obsRows = [[obsVVhalf, obsVVlate, obsVVint],[obsHHhalf, obsHHlate, obsHHint],[obsXPhalf, obsXPlate, obsXPint]];
const panelSeries = [
  [totalA,vegA,vegGroundA,doubleA,groundA],
  [totalB,vegB,vegGroundB,doubleB,groundB],
  [totalC,vegC,vegGroundC,doubleC,groundC],
  [totalD,vegD,vegGroundD,doubleD,groundD],
  [totalE,vegE,vegGroundE,doubleE,groundE],
  [totalF,vegF,vegGroundF,doubleF,groundF],
  [totalG,vegG,vegGroundG,doubleG,groundG],
  [totalH,vegH,vegGroundH,doubleH,groundH],
  [totalI,vegI,vegGroundI,doubleI,groundI]
];
const seriesNames = ['sim. Total <i>σ</i><sup>0</sup>','sim. vegetation','sim. vegetation-ground','sim. double-bounce','sim. ground'];
const seriesColors = ['#000000','#ff7f0e','#0097c9','#8c564b','#bfac00'];
const seriesLegend = ['legend','legend2','legend2','legend3','legend3'];
const obsName = '<i>σ</i><sup>0</sup> Observed';

const W = 1406, H = 1067;
const colPx = [[88,465],[541,918],[994,1371.5]];
const rowPx = [[117,369],[419,671],[722,973]];
const FONT = 'DejaVu Sans';

const traces = [];
const layout = {
  width: W, height: H, margin:{l:0,r:0,t:0,b:0},
  paper_bgcolor:'#ffffff', plot_bgcolor:'#ffffff',
  font:{family:FONT, color:'#000000', size:17},
  hovermode:false, showlegend:true,
  shapes:[], annotations:[]
};

for (let k = 0; k < 9; k++) {
  const r = Math.floor(k/3), c = k % 3;
  const xs = 'x' + (k===0?'':k+1), ys = 'y' + (k===0?'':k+1);
  const xk = 'xaxis' + (k===0?'':k+1), yk = 'yaxis' + (k===0?'':k+1);
  const obs = obsRows[r];
  traces.push({
    type:'scatter', mode:'markers', x: halfDays.concat(lateDays, days), y: obs[0].concat(obs[1], obs[2]),
    xaxis: xs, yaxis: ys, marker:{color:'#808080', size:7.5},
    name: obsName, showlegend:false
  });
  panelSeries[k].forEach((ser, s) => {
    traces.push({
      type:'scatter', mode:'lines', x: days, y: ser, xaxis: xs, yaxis: ys,
      line:{color: seriesColors[s], width: s===0 ? 5.5 : 5},
      name: seriesNames[s], showlegend:false
    });
  });
  layout[xk] = {
    domain:[colPx[c][0]/W, colPx[c][1]/W], anchor: ys,
    range:[1.25, 60.9], tickmode:'array', tickvals: tickDays, ticktext: tickLabels,
    showticklabels: r===2, ticks:'outside', ticklen:5, tickwidth:1.2, tickcolor:'#000',
    tickfont:{size:16, family:FONT},
    showgrid:true, gridcolor:'#b0b0b0', gridwidth:1.6, zeroline:false,
    showline:true, linecolor:'#000', linewidth:1.5, mirror:true
  };
  layout[yk] = {
    domain:[1-rowPx[r][1]/H, 1-rowPx[r][0]/H], anchor: xs,
    range: r===2 ? [-41.45,-9.3] : [-42.1,3.6],
    tickmode:'array', tickvals: r===2 ? yTicksXP : yTicksTop, ticktext: r===2 ? yTickTextXP : yTickTextTop,
    ticks:'outside', ticklen:5, tickwidth:1.2, tickcolor:'#000',
    tickfont:{size:18, family:FONT},
    showgrid:true, gridcolor:'#b0b0b0', gridwidth:1.6, zeroline:false,
    showline:true, linecolor:'#000', linewidth:1.5, mirror:true
  };
  // shaded period (soft edges)
  [[-0.25,0.6,'#e4e4e4'],[0.3,0.2,'#dadada'],[1.0,-0.4,'#d2d2d2']].forEach(b => {
    layout.shapes.push({type:'rect', xref:xs, yref: ys+' domain', x0: frozenPeriod[0]+b[0], x1: frozenPeriod[1]+b[1], y0:0, y1:1,
      fillcolor:b[2], line:{width:0}, layer:'below'});
  });
  layout.annotations.push({text: panelLetters[k], xref:'paper', yref:'paper',
    x:(colPx[c][0]+colPx[c][1])/2/W, y: 1-(rowPx[r][0]-14)/H, xanchor:'center', yanchor:'middle',
    showarrow:false, font:{size:21, family:FONT}});
}

// legend entries (keys only, thick symbols as in the reference)
traces.push({type:'scatter', mode:'markers', x:[null], y:[null], xaxis:'x', yaxis:'y',
  marker:{color:'#808080', size:10}, name: obsName, legend:'legend', showlegend:true});
seriesNames.forEach((nm, s) => {
  traces.push({type:'scatter', mode:'lines', x:[null], y:[null], xaxis:'x', yaxis:'y',
    line:{color: seriesColors[s], width:10}, name: nm, legend: seriesLegend[s], showlegend:true});
});

for (let c = 0; c < 3; c++) {
  layout.annotations.push({text: columnTitles[c], xref:'paper', yref:'paper',
    x:(colPx[c][0]+colPx[c][1])/2/W - 3/W, y: 1-76/H, xanchor:'center', yanchor:'middle',
    showarrow:false, font:{size:22, family:FONT}});
}
for (let r = 0; r < 3; r++) {
  layout.annotations.push({text: rowTitles[r], xref:'paper', yref:'paper', textangle:-90,
    x: 26/W, y: 1-(rowPx[r][0]+rowPx[r][1])/2/H, xanchor:'center', yanchor:'middle',
    showarrow:false, font:{size:20, family:FONT}});
}
layout.annotations.push({text:'L-band', xref:'paper', yref:'paper', x: 709/W, y: 1-25/H,
  xanchor:'center', yanchor:'middle', showarrow:false, font:{size:35, family:FONT}});

// legend frame
layout.shapes.push({type:'rect', xref:'paper', yref:'paper', x0:350/W, x1:1108/W, y0:-0.02, y1:1-1005/H,
  line:{color:'#cccccc', width:1.5}, fillcolor:'rgba(255,255,255,0.8)', layer:'above'});
const legBase = {yanchor:'top', xanchor:'left', y: 1-1006/H, bgcolor:'rgba(0,0,0,0)', borderwidth:0,
  font:{size:18, family:FONT}, tracegroupgap:0, itemwidth:45};
layout.legend = Object.assign({}, legBase, {x: 352/W});
layout.legend2 = Object.assign({}, legBase, {x: 558/W});
layout.legend3 = Object.assign({}, legBase, {x: 862/W});

Plotly.newPlot('chart', traces, layout, {displayModeBar:false, staticPlot:true});

const all = [obsVVint,obsVVhalf,obsVVlate,obsHHint,obsHHhalf,obsHHlate,obsXPint,obsXPhalf,obsXPlate].concat(...panelSeries);
const bad = all.map((a,i)=>[i,a.length]).filter(p=>p[1]!==59);
if (bad.length) throw new Error('length mismatch: ' + JSON.stringify(bad));
</script></body></html>
